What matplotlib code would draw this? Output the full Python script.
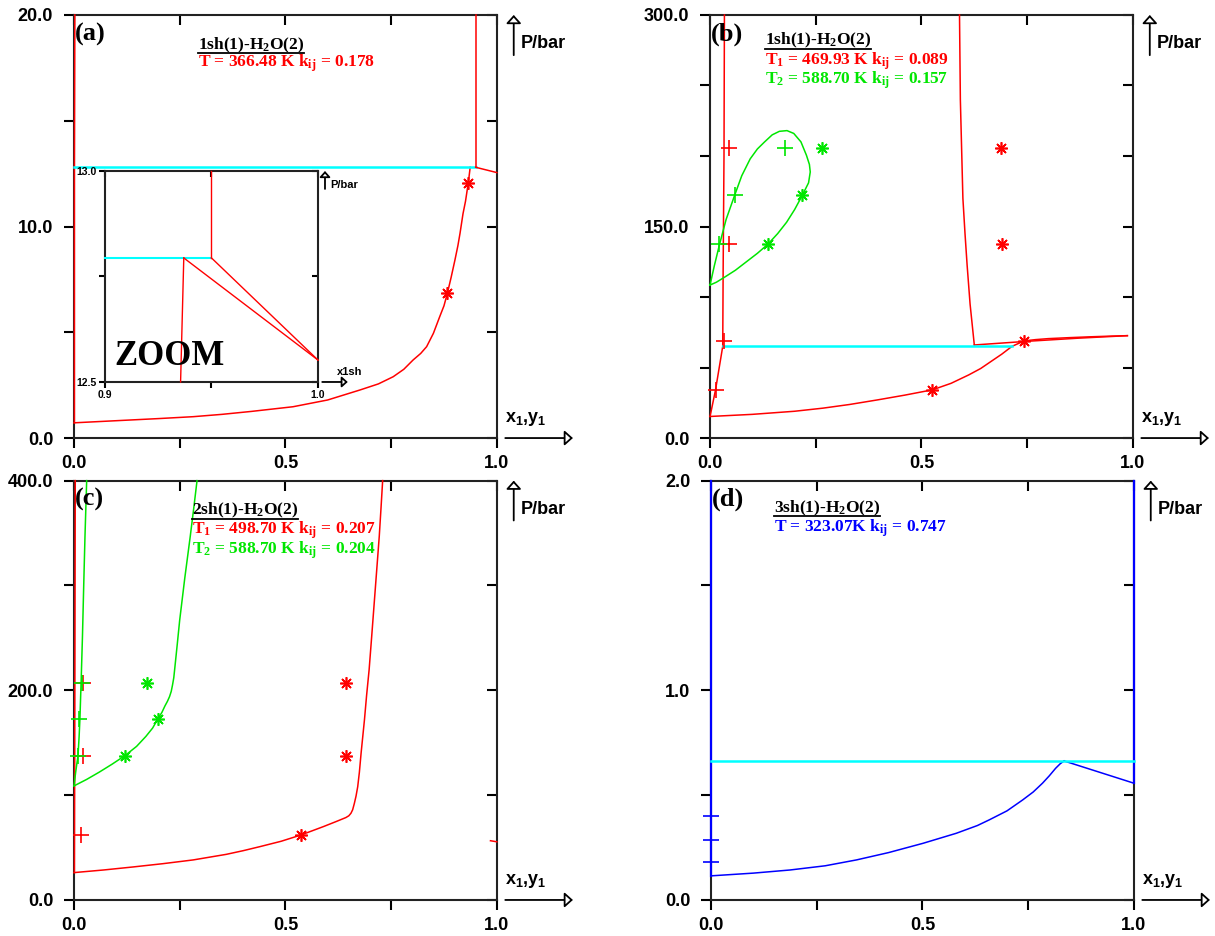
import matplotlib
matplotlib.use('Agg')
import matplotlib.pyplot as plt
from matplotlib.lines import Line2D

plt.rcParams['font.family'] = ['Liberation Sans', 'DejaVu Sans']
plt.rcParams['font.weight'] = 'bold'
plt.rcParams['mathtext.default'] = 'regular'

RED = '#ff0000'
GREEN = '#00e600'
CYAN = '#00ffff'
BLUE = '#0000ff'
SERIF = ['Liberation Serif', 'DejaVu Serif']

# ---- panel (a): 1sh(1)-H2O(2), T = 366.48 K
a_dew_x = [0.001, 0.001, 0.002]
a_dew_y = [0.72, 12.8, 20.0]
a_bub_x = [0.0, 0.1, 0.2, 0.282, 0.35, 0.42, 0.518, 0.6, 0.676, 0.72, 0.755, 0.78,
           0.802, 0.82, 0.834, 0.85, 0.865, 0.875, 0.883, 0.892, 0.901, 0.908, 0.913,
           0.920, 0.926, 0.930, 0.934, 0.937]
a_bub_y = [0.72, 0.82, 0.92, 1.01, 1.12, 1.26, 1.48, 1.80, 2.27, 2.56, 2.90, 3.25,
           3.69, 4.0, 4.32, 4.95, 5.74, 6.25, 6.84, 7.6, 8.42, 9.1, 9.68,
           10.6, 11.2, 11.73, 12.3, 12.8]
a_3ph_x = [0.0, 0.95]
a_3ph_y = [12.8, 12.8]
a_up_x = [0.95, 0.95]
a_up_y = [12.8, 20.0]
a_right_x = [0.95, 1.0]
a_right_y = [12.8, 12.55]
a_exp_x = [0.883, 0.931]
a_exp_y = [6.85, 12.06]

# zoom inset of (a)
z_cyan_x = [0.9, 0.95]
z_cyan_y = [12.794, 12.794]
z_up_x = [0.95, 0.95]
z_up_y = [12.794, 13.0]
z_bub_x = [0.9355, 0.937]
z_bub_y = [12.5, 12.794]
z_l1_x = [0.937, 1.0]
z_l1_y = [12.794, 12.552]
z_l2_x = [0.95, 1.0]
z_l2_y = [12.794, 12.552]

# ---- panel (b): 1sh(1)-H2O(2), T1 = 469.93 K, T2 = 588.70 K
b_dew_x = [0.0, 0.013, 0.030, 0.031, 0.033, 0.034]
b_dew_y = [15.3, 34.2, 65.0, 120.0, 200.0, 300.0]
b_bub_x = [0.0, 0.1, 0.2, 0.267, 0.33, 0.397, 0.46, 0.526, 0.57, 0.612, 0.64, 0.664,
           0.69, 0.714, 0.743, 0.77, 0.80, 0.85, 0.90, 0.95, 0.987]
b_bub_y = [15.3, 16.8, 19.0, 21.2, 23.8, 27.1, 30.4, 34.2, 38.8, 44.8, 49.3, 54.2,
           59.5, 65.0, 68.9, 69.8, 70.5, 71.2, 71.8, 72.3, 72.6]
b_ll_x = [0.590, 0.591, 0.592, 0.595, 0.598, 0.603, 0.608, 0.615, 0.625]
b_ll_y = [300.0, 270.0, 240.0, 205.0, 170.0, 145.0, 122.6, 95.0, 66.0]
b_vl_x = [0.625, 0.75, 0.87, 0.987]
b_vl_y = [66.0, 68.6, 70.8, 72.6]
b_3ph_x = [0.031, 0.714]
b_3ph_y = [65.0, 65.0]
b_loop_x = [0.0, 0.010, 0.022, 0.038, 0.058, 0.075, 0.095, 0.112, 0.129, 0.147, 0.164,
            0.182, 0.198, 0.215, 0.228, 0.235, 0.237, 0.233, 0.218, 0.200, 0.181, 0.160,
            0.137, 0.112, 0.086, 0.060, 0.034, 0.015, 0.0]
b_loop_y = [108.5, 122.0, 136.8, 155.0, 172.0, 186.0, 198.0, 205.0, 210.0, 215.0, 217.5,
            218.0, 216.0, 210.0, 200.5, 194.0, 188.7, 181.0, 172.0, 162.0, 153.0, 145.0,
            137.5, 131.0, 125.0, 119.0, 114.0, 110.5, 108.5]
b_red_plus_x = [0.013, 0.034, 0.045, 0.045]
b_red_plus_y = [34.2, 68.9, 137.5, 206.0]
b_red_star_x = [0.526, 0.743, 0.691, 0.688]
b_red_star_y = [34.2, 68.9, 137.5, 206.0]
b_grn_plus_x = [0.021, 0.058, 0.177]
b_grn_plus_y = [137.5, 172.0, 206.0]
b_grn_star_x = [0.137, 0.218, 0.265]
b_grn_star_y = [137.5, 172.0, 206.0]

# ---- panel (c): 2sh(1)-H2O(2), T1 = 498.70 K, T2 = 588.70 K
c_dew_x = [0.001, 0.002, 0.003]
c_dew_y = [26.1, 200.0, 400.0]
c_bub_x = [0.0, 0.07, 0.14, 0.21, 0.282, 0.36, 0.40, 0.44, 0.49, 0.537, 0.59, 0.62,
           0.643, 0.650, 0.655, 0.659, 0.663, 0.667, 0.671, 0.675, 0.679, 0.683, 0.687,
           0.692, 0.698, 0.704, 0.710, 0.716, 0.722, 0.726, 0.730]
c_bub_y = [26.1, 28.6, 31.5, 34.6, 38.2, 43.5, 47.0, 50.9, 56.0, 62.0, 70.0, 74.8,
           78.6, 80.3, 82.7, 86.0, 92.0, 99.0, 108.0, 122.0, 140.0, 156.0, 172.0,
           195.0, 219.6, 251.0, 283.0, 315.0, 347.0, 373.0, 400.0]
c_tail_x = [0.985, 1.0]
c_tail_y = [56.5, 55.5]
c_gdew_x = [0.0, 0.004, 0.0095, 0.012, 0.014, 0.017, 0.020, 0.023, 0.026, 0.030]
c_gdew_y = [108.8, 122.0, 137.8, 155.0, 172.5, 210.0, 251.0, 300.0, 347.0, 400.0]
c_gbub_x = [0.0, 0.03, 0.06, 0.09, 0.121, 0.148, 0.17, 0.186, 0.198, 0.208, 0.215,
            0.221, 0.226, 0.230, 0.233, 0.236, 0.238, 0.244, 0.25, 0.262, 0.275, 0.283,
            0.291]
c_gbub_y = [108.8, 115.0, 122.0, 129.5, 137.8, 146.5, 156.0, 164.0, 172.5, 179.0, 185.0,
            189.5, 194.0, 199.0, 205.0, 212.0, 219.6, 243.0, 267.0, 307.0, 347.0, 373.0,
            400.0]
c_red_plus_x = [0.016, 0.021, 0.021]
c_red_plus_y = [62.0, 137.8, 206.8]
c_red_star_x = [0.537, 0.643, 0.643]
c_red_star_y = [62.0, 137.8, 206.8]
c_grn_plus_x = [0.0095, 0.012, 0.018]
c_grn_plus_y = [137.8, 172.5, 206.8]
c_grn_star_x = [0.121, 0.198, 0.172]
c_grn_star_y = [137.8, 172.5, 206.8]

# ---- panel (d): 3sh(1)-H2O(2), T = 323.07 K
d_left_x = [0.0, 0.0]
d_left_y = [0.115, 2.0]
d_right_x = [1.0, 1.0]
d_right_y = [0.557, 2.0]
d_bub_x = [0.0, 0.1, 0.187, 0.27, 0.344, 0.42, 0.501, 0.58, 0.63, 0.658, 0.70, 0.737,
           0.762, 0.784, 0.80, 0.815, 0.826, 0.835]
d_bub_y = [0.115, 0.128, 0.143, 0.163, 0.191, 0.226, 0.270, 0.318, 0.355, 0.382, 0.425,
           0.477, 0.515, 0.557, 0.592, 0.628, 0.650, 0.663]
d_line_x = [0.835, 1.0]
d_line_y = [0.663, 0.557]
d_3ph_x = [0.0, 1.0]
d_3ph_y = [0.665, 0.665]
d_plus_x = [0.0, 0.0, 0.0]
d_plus_y = [0.183, 0.286, 0.401]

x_ticks = [0.0, 0.25, 0.5, 0.75, 1.0]
x_labels = ['0.0', '', '0.5', '', '1.0']


def frame(ax, yticks, ylabels, xticks=x_ticks, xlabels=x_labels, size=13, tl=7, small=False):
    ax.set_xticks(xticks)
    ax.set_xticklabels(xlabels)
    ax.set_yticks(yticks)
    ax.set_yticklabels(ylabels)
    ax.tick_params(direction='out', length=tl, width=1.5, labelsize=size,
                   top=False, right=False, pad=2 if small else 8)
    ax.tick_params(axis='x', pad=2 if small else 5)
    top = ax.secondary_xaxis('top')
    top.set_xticks(xticks)
    top.tick_params(direction='in', length=tl, width=1.5, labeltop=False)
    right = ax.secondary_yaxis('right')
    right.set_yticks(yticks)
    right.tick_params(direction='in', length=tl, width=1.5, labelright=False)
    for a in (top, right):
        for s in a.spines.values():
            s.set_visible(False)
    for s in ax.spines.values():
        s.set_linewidth(1.5)
        s.set_color('#222222')


def axis_arrows(ax, xl, yl, size=13, ms=10, small=False):
    head = '-|>,head_length=0.5,head_width=0.45'
    ax.annotate('', xy=(1.18 if not small else 1.14, 0.0), xytext=(1.02, 0.0),
                xycoords='axes fraction', annotation_clip=False,
                arrowprops=dict(arrowstyle=head, fc='white', ec='black', lw=1.3,
                                shrinkA=0, shrinkB=0, mutation_scale=ms))
    ax.annotate('', xy=(1.04 if not small else 1.033, 1.0),
                xytext=(1.04 if not small else 1.033, 0.905 if not small else 0.915),
                xycoords='axes fraction', annotation_clip=False,
                arrowprops=dict(arrowstyle=head, fc='white', ec='black', lw=1.3,
                                shrinkA=0, shrinkB=0, mutation_scale=ms))
    ax.text(1.02 if not small else 1.09, 0.045, xl, transform=ax.transAxes,
            fontsize=size, ha='left', va='center')
    ax.text(1.057, 0.932 if not small else 0.935, yl, transform=ax.transAxes,
            fontsize=size, ha='left', va='center')


def line(ax, x, y, color, w=1.1):
    ax.plot(x, y, color=color, lw=w, zorder=3, clip_on=False)


fig = plt.figure(figsize=(12.15, 9.36), dpi=100)
axa = fig.add_axes([0.0609, 0.532, 0.348, 0.452])
axb = fig.add_axes([0.5844, 0.532, 0.348, 0.452])
axc = fig.add_axes([0.0609, 0.0385, 0.348, 0.448])
axd = fig.add_axes([0.5852, 0.0385, 0.348, 0.448])

ms = 9
star = (8, 2, 0)


def marks(ax, x, y, marker, color):
    size = ms + 2 if marker == '+' else ms
    ax.plot(x, y, ls='none', marker=marker, ms=size, mec=color, mew=1.2, zorder=4,
            clip_on=False)


# (a)
line(axa, a_dew_x, a_dew_y, RED)
line(axa, a_bub_x, a_bub_y, RED)
line(axa, a_3ph_x, a_3ph_y, CYAN, 1.8)
line(axa, a_up_x, a_up_y, RED)
line(axa, a_right_x, a_right_y, RED)
marks(axa, a_exp_x, a_exp_y, star, RED)
axa.set_xlim(0, 1)
axa.set_ylim(0, 20)
frame(axa, [0, 5, 10, 15, 20], ['0.0', '', '10.0', '', '20.0'])
axis_arrows(axa, 'x$_1$,y$_1$', 'P/bar')

# (b)
line(axb, b_dew_x, b_dew_y, RED)
line(axb, b_bub_x, b_bub_y, RED)
line(axb, b_ll_x, b_ll_y, RED)
line(axb, b_vl_x, b_vl_y, RED)
line(axb, b_3ph_x, b_3ph_y, CYAN, 1.8)
line(axb, b_loop_x, b_loop_y, GREEN)
marks(axb, b_red_plus_x, b_red_plus_y, '+', RED)
marks(axb, b_red_star_x, b_red_star_y, star, RED)
marks(axb, b_grn_plus_x, b_grn_plus_y, '+', GREEN)
marks(axb, b_grn_star_x, b_grn_star_y, star, GREEN)
axb.set_xlim(0, 1)
axb.set_ylim(0, 300)
frame(axb, [0, 50, 100, 150, 200, 250, 300], ['0.0', '', '', '150.0', '', '', '300.0'])
axis_arrows(axb, 'x$_1$,y$_1$', 'P/bar')

# (c)
line(axc, c_dew_x, c_dew_y, RED)
line(axc, c_bub_x, c_bub_y, RED)
line(axc, c_tail_x, c_tail_y, RED)
line(axc, c_gdew_x, c_gdew_y, GREEN)
line(axc, c_gbub_x, c_gbub_y, GREEN)
marks(axc, c_red_plus_x, c_red_plus_y, '+', RED)
marks(axc, c_red_star_x, c_red_star_y, star, RED)
marks(axc, c_grn_plus_x, c_grn_plus_y, '+', GREEN)
marks(axc, c_grn_star_x, c_grn_star_y, star, GREEN)
axc.set_xlim(0, 1)
axc.set_ylim(0, 400)
frame(axc, [0, 100, 200, 300, 400], ['0.0', '', '200.0', '', '400.0'])
axis_arrows(axc, 'x$_1$,y$_1$', 'P/bar')

# (d)
line(axd, d_left_x, d_left_y, BLUE, 1.6)
line(axd, d_right_x, d_right_y, BLUE, 1.6)
line(axd, d_bub_x, d_bub_y, BLUE)
line(axd, d_line_x, d_line_y, BLUE)
line(axd, d_3ph_x, d_3ph_y, CYAN, 1.8)
marks(axd, d_plus_x, d_plus_y, '+', BLUE)
axd.set_xlim(0, 1)
axd.set_ylim(0, 2)
frame(axd, [0, 0.5, 1, 1.5, 2], ['0.0', '', '1.0', '', '2.0'])
axis_arrows(axd, 'x$_1$,y$_1$', 'P/bar')

# inset zoom of (a)
axz = fig.add_axes([0.0864, 0.5919, 0.1753, 0.2254])
line(axz, z_cyan_x, z_cyan_y, CYAN, 1.5)
line(axz, z_up_x, z_up_y, RED, 1.0)
line(axz, z_bub_x, z_bub_y, RED, 1.0)
line(axz, z_l1_x, z_l1_y, RED, 1.0)
line(axz, z_l2_x, z_l2_y, RED, 1.0)
axz.set_xlim(0.9, 1.0)
axz.set_ylim(12.5, 13.0)
frame(axz, [12.5, 12.75, 13.0], ['12.5', '', '13.0'], xticks=[0.9, 0.95, 1.0],
      xlabels=['0.9', '', '1.0'], size=7.5, tl=4, small=True)
axis_arrows(axz, 'x1sh', 'P/bar', size=8, ms=7, small=True)
axz.text(0.045, 0.12, 'ZOOM', transform=axz.transAxes, family=SERIF, fontsize=25,
         ha='left', va='center')

# panel letters and titles
titles = []
for ax, letter in [(axa, '(a)'), (axb, '(b)'), (axc, '(c)'), (axd, '(d)')]:
    ax.text(0.003, 0.955, letter, transform=ax.transAxes, family=SERIF, fontsize=19,
            ha='left', va='center', zorder=5)

titles.append(axa.text(0.293, 0.929, '1sh(1)-H$_2$O(2)', transform=axa.transAxes,
                       family=SERIF, fontsize=12.5, ha='left', va='center'))
axa.text(0.293, 0.886, 'T = 366.48 K k$_{ij}$ = 0.178', transform=axa.transAxes,
         family=SERIF, fontsize=12.5, color=RED, ha='left', va='center')

titles.append(axb.text(0.129, 0.939, '1sh(1)-H$_2$O(2)', transform=axb.transAxes,
                       family=SERIF, fontsize=12.5, ha='left', va='center'))
axb.text(0.129, 0.891, 'T$_1$ = 469.93 K k$_{ij}$ = 0.089', transform=axb.transAxes,
         family=SERIF, fontsize=12.5, color=RED, ha='left', va='center')
axb.text(0.129, 0.845, 'T$_2$ = 588.70 K k$_{ij}$ = 0.157', transform=axb.transAxes,
         family=SERIF, fontsize=12.5, color=GREEN, ha='left', va='center')

titles.append(axc.text(0.278, 0.929, '2sh(1)-H$_2$O(2)', transform=axc.transAxes,
                       family=SERIF, fontsize=12.5, ha='left', va='center'))
axc.text(0.278, 0.881, 'T$_1$ = 498.70 K k$_{ij}$ = 0.207', transform=axc.transAxes,
         family=SERIF, fontsize=12.5, color=RED, ha='left', va='center')
axc.text(0.278, 0.835, 'T$_2$ = 588.70 K k$_{ij}$ = 0.204', transform=axc.transAxes,
         family=SERIF, fontsize=12.5, color=GREEN, ha='left', va='center')

titles.append(axd.text(0.148, 0.935, '3sh(1)-H$_2$O(2)', transform=axd.transAxes,
                       family=SERIF, fontsize=12.5, ha='left', va='center'))
axd.text(0.148, 0.887, 'T = 323.07K k$_{ij}$ = 0.747', transform=axd.transAxes,
         family=SERIF, fontsize=12.5, color=BLUE, ha='left', va='center')

# underline the system names
fig.canvas.draw()
renderer = fig.canvas.get_renderer()
inv = fig.transFigure.inverted()
for t in titles:
    bb = t.get_window_extent(renderer)
    (x0, y0), (x1, _) = inv.transform([[bb.x0, bb.y0 + 1.5], [bb.x1, bb.y0 + 1.5]])
    fig.add_artist(Line2D([x0, x1], [y0, y0], color='black', lw=1.3,
                          transform=fig.transFigure))

fig.savefig('out.png', dpi=100)
